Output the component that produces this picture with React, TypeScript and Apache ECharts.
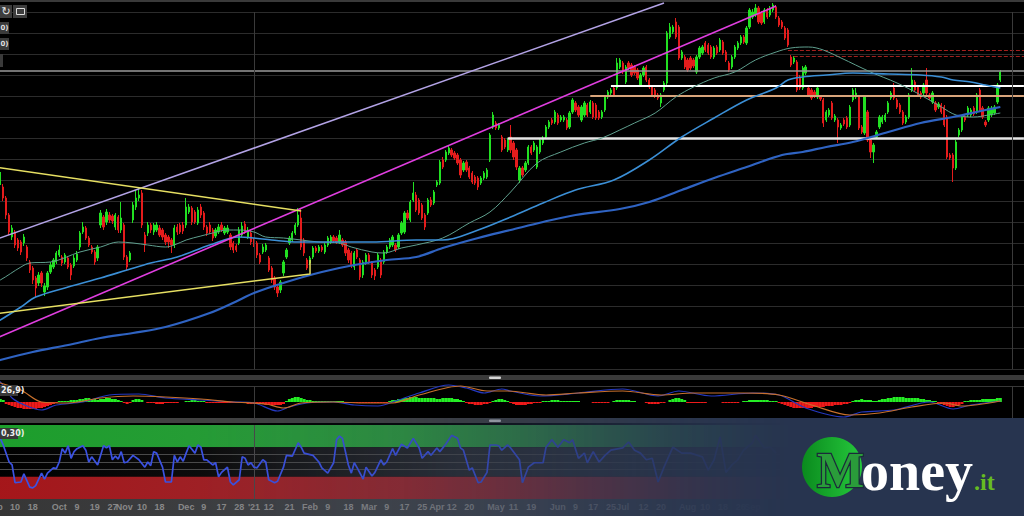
import React, { useEffect, useRef } from 'react';
import * as echarts from 'echarts';

const SLOTS = 350;
const slots = Array.from({ length: SLOTS }, (_, i) => String(i));

// [open, close, low, high]
const ohlc: number[][] = [
  [210,214,207,217],[214,207,204,216],[207,215,205,218],[203,192,189,206],[192,175,171,194],[175,158,155,177],[153,162,150,165],[158,145,142,160],[150,142,139,152],[148,138,135,150],
  [147,153,144,156],[143,132,129,145],[128,120,117,130],[122,110,106,124],[112,102,93,114],[107,115,104,118],[117,107,103,119],[98,104,94,107],[103,117,100,119],[118,125,116,128],
  [123,130,121,132],[128,137,126,139],[135,140,133,145],[133,127,124,135],[128,135,126,137],[132,123,121,134],[125,115,110,127],[124,132,122,135],[130,136,128,139],[143,157,140,159],
  [158,163,156,168],[162,152,150,164],[152,145,143,154],[143,138,136,145],[138,128,125,140],[132,143,129,145],[165,177,162,180],[173,163,160,175],[168,178,165,181],[175,170,167,178],
  [174,169,166,176],[163,175,160,177],[173,160,157,175],[160,172,157,188],[165,133,130,167],[133,123,120,135],[130,137,128,139],[170,185,167,188],[183,192,180,200],[192,195,189,202],
  [197,165,162,200],[155,145,138,158],[157,165,154,168],[165,160,157,167],[158,165,155,167],[160,165,158,168],[162,155,153,165],[160,153,150,162],[155,148,145,157],[153,148,142,155],
  [150,145,137,152],[145,162,142,165],[163,158,155,166],[165,158,156,167],[165,159,156,168],[165,183,162,192],[178,183,176,186],[182,168,165,184],[178,168,166,180],[167,180,165,183],
  [183,175,172,186],[177,163,160,179],[163,157,154,165],[165,158,156,168],[160,152,149,162],[154,160,152,162],[158,163,156,166],[165,160,158,168],[157,162,155,164],[158,162,156,165],
  [155,143,140,157],[147,140,137,149],[144,140,138,146],[147,160,145,163],[155,164,153,168],[166,158,156,169],[153,160,151,163],[157,148,145,160],[150,145,143,152],[147,135,132,149],
  [135,128,126,137],[138,143,136,146],[140,145,138,147],[132,120,118,134],[122,110,107,124],[112,103,100,114],[103,97,93,105],[100,108,97,110],[117,128,114,130],[133,140,131,142],
  [147,152,145,154],[150,157,148,159],[157,165,155,167],[165,175,163,182],[172,143,140,182],[150,137,134,152],[130,122,120,132],[127,132,125,134],[133,142,131,144],[142,139,137,144],
  [139,143,137,145],[143,140,138,145],[138,145,136,147],[145,152,143,154],[148,153,146,155],[153,149,147,155],[152,148,146,154],[148,155,146,160],[150,145,143,152],[148,137,134,150],
  [140,130,127,142],[137,125,122,139],[123,137,120,139],[140,133,131,142],[130,113,110,132],[115,128,112,130],[127,135,125,137],[135,128,126,137],[127,115,112,129],[120,114,110,122],
  [123,135,121,137],[130,115,112,132],[128,138,126,140],[138,143,136,145],[143,150,141,152],[145,153,143,155],[145,140,138,147],[143,155,141,157],[157,167,155,169],[158,177,156,179],
  [177,172,170,180],[170,188,168,190],[190,197,188,208],[195,180,178,198],[190,177,175,192],[185,172,170,187],[175,163,160,177],[177,190,175,192],[190,185,183,193],[187,198,185,200],
  [205,208,203,210],[207,228,205,230],[230,223,221,233],[230,238,228,240],[237,242,235,244],[240,235,233,242],[237,232,230,239],[235,227,225,237],[230,215,212,232],[220,227,218,229],
  [228,220,218,230],[222,213,211,224],[217,208,206,219],[213,207,205,215],[212,203,200,214],[207,212,205,214],[212,217,210,219],[213,220,211,222],[230,255,228,257],[263,275,261,278],
  [267,262,260,269],[262,265,260,267],[253,240,238,255],[250,243,241,252],[240,250,238,252],[253,240,237,265],[247,233,230,249],[240,223,220,242],[210,222,207,224],[222,215,213,224],
  [220,227,218,229],[227,243,225,245],[243,237,235,245],[240,247,238,249],[223,243,221,245],[238,250,236,252],[247,252,245,254],[253,263,251,265],[263,268,261,270],[270,267,265,272],
  [268,278,266,280],[275,267,265,277],[270,273,268,275],[270,273,268,275],[270,262,260,272],[263,277,261,279],[278,290,276,292],[287,280,278,289],[283,275,273,285],[270,283,268,285],
  [275,287,273,289],[285,275,273,287],[278,288,276,290],[287,273,271,289],[285,272,270,287],[278,272,270,280],[273,278,271,280],[280,293,278,295],[293,298,291,300],[297,300,295,302],
  [302,295,293,304],[302,327,300,332],[323,330,321,332],[327,318,316,329],[308,323,306,325],[327,322,320,329],[325,315,313,327],[323,317,315,325],[320,312,310,322],[305,315,303,317],
  [315,322,313,324],[323,310,308,325],[310,303,301,312],[303,295,293,305],[300,294,292,302],[295,292,290,297],[287,295,283,297],[300,307,298,309],[307,357,305,359],[353,363,351,367],
  [358,363,356,365],[368,353,351,372],[363,332,330,365],[332,338,330,340],[333,323,321,335],[330,320,318,332],[332,322,320,334],[330,324,322,332],[318,333,316,335],[333,342,331,344],
  [337,343,335,345],[347,340,338,349],[345,337,335,347],[343,333,331,345],[333,342,331,344],[343,337,335,345],[340,350,338,352],[348,337,335,350],[338,330,328,340],[327,320,318,329],
  [323,333,321,335],[333,343,331,345],[342,347,340,349],[347,353,345,355],[353,348,346,355],[347,362,345,364],[363,380,361,382],[373,378,371,381],[375,382,373,386],[382,368,366,384],
  [377,367,365,379],[368,380,366,382],[380,373,371,382],[375,382,373,384],[380,385,378,387],[383,373,371,385],[372,365,363,374],[368,363,361,370],[362,352,350,364],[360,345,343,362],
  [333,325,323,335],[328,332,326,334],[328,300,298,330],[313,302,300,315],[302,322,300,324],[317,323,315,325],[302,295,293,304],[300,292,290,302],[298,294,292,300],[293,302,291,304],
  [293,291,289,295],[290,267,263,292],[270,278,268,280],[275,280,273,282],[287,272,270,289],[270,274,268,276],[270,263,247,272],[262,265,260,267],[270,266,264,272],[272,263,261,274],
  [265,283,263,285],[290,300,288,302],[293,297,291,302],[293,262,260,295],[263,258,256,265],[257,293,255,295],[278,250,248,280],[250,238,232,252],[238,245,227,247],[253,258,251,260],
  [263,273,261,275],[268,273,266,275],[270,275,268,277],[278,287,276,289],[292,297,290,299],[302,292,290,307],[290,283,281,292],[285,278,276,287],[278,267,265,280],[268,273,266,275],
  [273,295,271,297],[300,310,298,322],[308,300,298,310],[303,295,293,305],[297,293,291,299],[297,305,295,307],[310,297,295,322],[295,292,290,297],[288,297,286,299],[287,280,278,289],
  [283,286,281,288],[285,278,276,287],[283,265,263,285],[273,233,231,275],[235,232,230,237],[235,222,208,237],[222,248,220,250],[255,260,253,262],[260,273,258,275],[273,270,268,275],
  [275,282,273,284],[275,280,273,282],[282,276,274,284],[278,295,276,297],[300,280,278,302],[282,273,271,284],[268,265,263,270],[270,282,268,284],[275,282,273,284],[277,283,275,285],
  [288,305,286,307],[310,318,308,320],
];

const tickLabels: [number, string][] = [
  [0,'Sep'],[7,'10'],[13,'18'],[22,'Oct'],[28,'9'],[34,'19'],[40,'27'],[44,'Nov'],[50,'10'],[56,'18'],
  [65,'Dec'],[71,'9'],[77,'17'],[83,'28'],[88,"'21"],[93,'12'],[100,'21'],[107,'Feb'],[113,'9'],[120,'18'],
  [127,'Mar'],[133,'9'],[139,'17'],[145,'25'],[150,'Apr'],[155,'12'],[161,'20'],[170,'May'],[176,'11'],[182,'19'],
  [191,'Jun'],[197,'9'],[203,'17'],[209,'25'],[213,'Jul'],[220,'12'],[226,'20'],[235,'Aug'],[241,'10'],[247,'18'],
  [253,'26'],[257,'Sep'],
];

const ma50: [number, number][] = [[0,108],[2,110],[9,123],[12,127],[19,128],[29,138],[36,143],[42,148],[47,147],[52,145],[58,143],[61,145],[65,150],[70,154],[74,157],[79,160],[83,160],[88,158],[92,153],[98,152],[104,150],[110,148],[117,147],[121,143],[128,138],[132,137],[138,142],[143,145],[152,152],[161,167],[168,178],[175,198],[184,227],[192,238],[200,247],[206,252],[212,260],[217,267],[224,277],[231,293],[237,303],[244,312],[251,318],[258,330],[265,338],[270,342],[276,343],[281,340],[287,332],[297,318],[306,307],[314,295],[321,283],[326,275],[332,273],[337,275],[341,277]];
const ma100: [number, number][] = [[0,67],[2,70],[9,83],[14,93],[25,103],[36,112],[45,120],[53,127],[62,133],[73,145],[83,153],[88,152],[94,150],[103,148],[116,148],[128,148],[143,150],[152,150],[164,160],[175,173],[186,187],[197,200],[210,210],[222,230],[233,253],[244,272],[255,290],[265,302],[269,310],[274,313],[282,315],[291,317],[303,316],[314,315],[321,313],[325,310],[331,308],[336,305],[341,302]];
const ma200: [number, number][] = [[0,28],[2,30],[13,38],[25,45],[36,52],[47,57],[58,63],[73,77],[83,90],[88,97],[99,108],[111,118],[122,125],[133,130],[143,133],[152,142],[164,152],[175,160],[186,168],[197,175],[212,181],[222,188],[233,200],[244,212],[255,223],[267,235],[274,238],[282,243],[291,248],[303,258],[314,267],[325,273],[336,280],[341,283]];

const lavenderLine: [number, number][] = [[0,150],[227,387]];
const magentaLine: [number, number][] = [[0,51],[265,384]];
const yellowUpper: [number, number][] = [[0,223],[104,179]];
const yellowLower: [number, number][] = [[0,76],[107,116],[107,130]];

const grayLevel = 319.5;
const whiteLevel = { from: 209, value: 304 };
const tanLevel = { from: 202, value: 294 };
const supportLevel = { from: 174, value: 252 };
const redLevels = [{ from: 269, value: 340 }, { from: 271, value: 334 }];
const yearBreak = 88;
const lastSlot = 345;

const macdHist: number[] = [
  2,3,3,2,
  -2,-3,-4,-5,-6,-6,-7,-7,-7,-7,-7,-6,-6,-5,-4,-3,-2,-1,
  1,1,1,1,2,2,2,
  3,3,4,4,3,3,2,
  3,3,4,4,3,3,2,1,
  -1,-2,-1,
  2,3,3,2,
  0,
  -1,-1,-1,-2,-2,-2,-1,-1,-1,-1,-1,
  0,0,
  1,1,2,2,1,1,1,
  -1,-1,-1,-1,-1,-1,-1,-1,-1,
  -1,-1,-1,-1,-1,-2,-2,-2,-2,-2,-2,-3,-3,-3,-3,-3,-3,-2,
  1,3,4,5,5,4,3,
  2,2,1,1,1,1,1,1,1,1,1,1,1,
  -1,-1,-1,-1,-1,-1,-1,-1,-1,-1,-1,-1,-1,-1,-1,
  1,2,2,3,3,4,4,5,5,5,4,4,4,4,4,4,3,3,4,4,4,4,3,3,2,1,
  -1,-2,-2,-3,-3,-3,-2,-2,-1,
  1,2,3,3,2,1,
  -1,-2,-3,-3,-3,-3,-2,-2,-1,-1,-1,
  1,1,1,2,2,2,1,1,1,1,1,1,1,
  0,0,0,0,
  -1,-1,-1,-1,-1,-1,
  0,
  1,2,2,2,2,2,1,1,
  0,0,0,-1,
  -2,-2,-2,-2,-1,-1,
  0,
  2,3,4,4,3,2,
  -1,-1,-1,-1,-1,-1,-1,
  0,0,0,0,0,
  -1,-1,-1,-1,-1,-1,
  0,
  1,1,2,2,2,2,2,2,2,1,1,1,
  -1,-2,-3,-4,-5,-6,-6,-6,-6,-6,-6,-6,-5,-5,-5,-5,-4,-4,-4,-3,-3,-3,-2,-2,-1,
  1,2,2,3,2,2,2,
  1,1,
  2,3,3,4,4,5,5,5,5,4,4,4,4,4,3,3,2,2,1,1,
  -1,-2,-3,-4,-5,-5,-4,-3,-2,
  1,1,2,2,2,2,3,3,3,3,3,4,4,
];
const macdLine: [number, number][] = [[0,22],[2,20],[6,4],[11,-4],[16,-8],[21,-3],[30,0],[39,7],[49,8],[58,4],[70,2],[81,0],[88,-1],[96,-9],[100,-5],[106,-1],[115,0],[122,-3],[130,-4],[137,2],[144,9],[154,17],[160,14],[166,9],[172,13],[175,11],[185,6],[198,9],[213,13],[225,6],[232,11],[243,6],[257,9],[266,7],[275,-6],[288,-15],[294,-10],[305,-8],[317,0],[325,-7],[331,-3],[341,1]];
const signalLine: [number, number][] = [[0,20],[2,19],[9,12],[16,0],[25,-1],[36,4],[47,6],[58,5],[70,3],[81,0],[92,-2],[98,-6],[104,-1],[115,0],[126,-1],[135,-1],[144,7],[158,16],[167,11],[174,11],[187,7],[198,9],[213,11],[226,7],[237,9],[254,9],[266,7],[277,-3],[290,-13],[300,-11],[311,-5],[322,-1],[328,-4],[341,1]];

const rsi: [number, number][] = [[2,82],[3,73],[5,50],[6,46],[7,22],[9,23],[10,34],[12,16],[13,15],[14,18],[16,35],[17,27],[18,35],[20,42],[21,41],[22,50],[23,68],[24,62],[25,72],[26,55],[27,64],[28,68],[30,72],[31,66],[32,50],[33,57],[35,46],[37,72],[38,69],[39,72],[40,53],[41,58],[42,54],[43,64],[44,49],[45,50],[47,59],[49,53],[51,43],[52,50],[53,45],[54,64],[55,62],[57,43],[58,23],[60,23],[61,59],[62,50],[63,57],[64,51],[65,62],[66,72],[68,62],[69,73],[70,70],[71,53],[72,53],[74,46],[75,49],[76,30],[77,36],[79,43],[80,23],[81,19],[83,26],[84,57],[85,55],[86,46],[87,49],[88,43],[89,42],[91,53],[92,50],[93,26],[95,22],[96,24],[98,43],[99,59],[101,58],[103,76],[104,70],[105,62],[108,59],[110,50],[111,42],[113,35],[115,49],[116,80],[117,85],[118,82],[120,46],[121,35],[122,49],[123,42],[125,27],[126,43],[128,31],[129,36],[131,53],[132,46],[133,50],[135,68],[136,59],[138,74],[140,69],[142,82],[144,69],[145,55],[147,64],[148,59],[150,69],[151,64],[153,74],[155,86],[157,82],[158,69],[159,66],[161,39],[162,42],[164,22],[165,23],[167,36],[168,73],[170,73],[171,72],[172,66],[174,73],[175,69],[178,53],[179,22],[181,43],[183,49],[186,49],[187,70],[189,80],[191,70],[193,80],[195,76],[196,80],[198,55],[200,62],[201,49],[203,64],[205,50],[207,59],[209,66],[213,69],[215,77],[217,66],[219,62],[221,53],[223,55],[225,23],[227,43],[230,70],[233,62],[236,62],[240,57],[242,39],[244,53],[246,84],[248,36],[250,46],[252,53],[254,66],[257,76],[258,86],[261,69],[263,70],[265,62]];

const GL = -7.1;
const GW = SLOTS * 2.95;
const fadeStops: [number, number][] = [[200, 0], [400, 0.18], [512, 0.42], [600, 0.66], [680, 0.85], [740, 0.95], [790, 1]];

function fadeAt(x: number): number {
  if (x <= fadeStops[0][0]) return 0;
  for (let k = 1; k < fadeStops.length; k++) {
    const [x1, a1] = fadeStops[k];
    const [x0, a0] = fadeStops[k - 1];
    if (x <= x1) return a0 + (a1 - a0) * (x - x0) / (x1 - x0);
  }
  return 1;
}

export default function App() {
  const ref = useRef<HTMLDivElement>(null);
  useEffect(() => {
    const chart = echarts.init(ref.current!, null, { renderer: 'svg' });
    const labelMap = new Map<number, string>(tickLabels);
    const xAx = (g: number, show: boolean) => ({
      type: 'category', gridIndex: g, data: slots, boundaryGap: true,
      axisLine: { show: false }, axisTick: { show: false }, splitLine: { show: false },
      axisLabel: show ? {
        interval: 0, margin: 3, color: '#888888', fontSize: 9, fontWeight: 'bold', fontFamily: 'Liberation Sans',
        formatter: (_v: string, idx: number) => labelMap.get(idx) ?? '',
      } : { show: false },
    });
    const yHidden = { axisLabel: { show: false }, axisLine: { show: false }, axisTick: { show: false } };
    const vLine = (c: string) => ({ silent: true, symbol: ['none', 'none'], label: { show: false },
      data: [{ xAxis: String(yearBreak), lineStyle: { color: c, width: 1, type: 'solid' } },
             { xAxis: String(lastSlot), lineStyle: { color: c, width: 1, type: 'solid' } }] });
    const seg = (lv: { from: number; value: number }, color: string, width: number, type: string) => [
      { coord: [String(lv.from), lv.value], lineStyle: { color, width, type } },
      { coord: [String(SLOTS - 1), lv.value] },
    ];
    const grad = (stops: [number, string][]) => new echarts.graphic.LinearGradient(0, 0, 1, 0, stops.map(([offset, color]) => ({ offset, color })));
    const trend = (data: [number, number][], color: string, width: number) => ({
      type: 'line', xAxisIndex: 0, yAxisIndex: 0, data, symbol: 'none', clip: false, z: 6,
      lineStyle: { color, width }, silent: true,
    });
    const ma = (data: [number, number][], color: string, width: number) => ({
      type: 'line', xAxisIndex: 0, yAxisIndex: 0, data, symbol: 'none', smooth: 0.35, clip: false, z: 5,
      lineStyle: { color, width }, silent: true,
    });
    const gridBase = { left: GL, width: GW, containLabel: false, outerBoundsMode: 'none' };

    const fadeStrips: any[] = [];
    for (let x = 200; x < 800; x += 4) {
      const a = fadeAt(x + 2).toFixed(3);
      fadeStrips.push({ type: 'rect', z: 100, silent: true, shape: { x, y: 418, width: 4, height: 98 },
        style: { fill: `rgba(39,52,79,${a})` } });
    }
    fadeStrips.push({ type: 'rect', z: 100, silent: true, shape: { x: 800, y: 418, width: 224, height: 98 }, style: { fill: 'rgb(39,52,79)' } });

    const option: any = {
      animation: false,
      backgroundColor: '#000',
      grid: [
        { ...gridBase, top: 12, height: 357 },
        { ...gridBase, top: 386, height: 32 },
        { ...gridBase, top: 425, height: 74 },
      ],
      xAxis: [xAx(0, false), xAx(1, false), xAx(2, true)],
      yAxis: [
        { type: 'value', gridIndex: 0, min: 21, max: 378, interval: 21, ...yHidden, splitLine: { lineStyle: { color: '#2c2c2c', width: 1 } } },
        { type: 'value', gridIndex: 1, min: -16, max: 16, interval: 32, ...yHidden, splitLine: { lineStyle: { color: '#383838', width: 1 } } },
        { type: 'value', gridIndex: 2, min: 0, max: 100, ...yHidden, splitLine: { show: false } },
      ],
      series: [
        {
          type: 'candlestick', xAxisIndex: 0, yAxisIndex: 0, data: ohlc, barWidth: 1.8, clip: false, z: 4,
          itemStyle: { color: '#22e022', color0: '#e41c1c', borderColor: '#22e022', borderColor0: '#e41c1c', borderWidth: 1 },
          markLine: {
            silent: true, symbol: ['none', 'none'], label: { show: false },
            data: [
              { yAxis: grayLevel, lineStyle: { color: '#9a9a9a', width: 1.5, type: 'solid' } },
              seg(whiteLevel, '#ffffff', 2, 'solid'),
              seg(tanLevel, '#d9a57c', 2, 'solid'),
              seg(supportLevel, '#e6e6e6', 2.5, 'solid'),
              seg(redLevels[0], '#a3201e', 1, 'dashed'),
              seg(redLevels[1], '#a3201e', 1, 'dashed'),
              { xAxis: String(yearBreak), lineStyle: { color: '#3a3a3a', width: 1, type: 'solid' } },
              { xAxis: String(lastSlot), lineStyle: { color: '#3a3a3a', width: 1, type: 'solid' } },
            ],
          },
        },
        ma(ma50, '#5f9f8e', 1),
        ma(ma100, '#3b8fd6', 1.6),
        ma(ma200, '#2f63c2', 2.2),
        trend(lavenderLine, '#b3a3e6', 1.5),
        trend(magentaLine, '#e03ee0', 1.6),
        trend(yellowUpper, '#e6df62', 1.5),
        trend(yellowLower, '#e6df62', 1.5),
        {
          type: 'bar', xAxisIndex: 1, yAxisIndex: 1, barWidth: 3, silent: true,
          data: macdHist.map(v => ({ value: v, itemStyle: { color: v >= 0 ? '#25ee25' : '#ee1a1a' } })),
          markLine: vLine('#3a3a3a'),
        },
        { type: 'line', xAxisIndex: 1, yAxisIndex: 1, data: macdLine, symbol: 'none', smooth: 0.3, clip: false,
          lineStyle: { color: '#2438c0', width: 1.2 }, silent: true, z: 5 },
        { type: 'line', xAxisIndex: 1, yAxisIndex: 1, data: signalLine, symbol: 'none', smooth: 0.3, clip: false,
          lineStyle: { color: '#c8702c', width: 1.2 }, silent: true, z: 6 },
        {
          type: 'line', xAxisIndex: 2, yAxisIndex: 2, data: slots.map(() => null), symbol: 'none', silent: true, z: 1,
          markArea: {
            silent: true,
            data: [
              [{ yAxis: 70, itemStyle: { color: grad([[0, '#1c9e2b'], [0.4, '#2f9a40'], [1, '#3f8a55']]) } }, { yAxis: 100 }],
              [{ yAxis: 30, itemStyle: { color: grad([[0, '#000000'], [0.2, '#0c0c0c'], [0.45, '#2a2c30'], [1, '#3a3e44']]) } }, { yAxis: 70 }],
              [{ yAxis: 0, itemStyle: { color: grad([[0, '#a5161a'], [0.4, '#982a30'], [1, '#8a3c44']]) } }, { yAxis: 30 }],
            ],
          },
          markLine: {
            silent: true, symbol: ['none', 'none'], label: { show: false },
            data: [
              { yAxis: 40, lineStyle: { color: '#4a4a4a', width: 1, type: 'solid' } },
              { yAxis: 50, lineStyle: { color: '#4a4a4a', width: 1, type: 'solid' } },
              { yAxis: 60, lineStyle: { color: '#4a4a4a', width: 1, type: 'solid' } },
              { xAxis: String(yearBreak), lineStyle: { color: '#4a4a4a', width: 1, type: 'solid' } },
            ],
          },
        },
        { type: 'line', xAxisIndex: 2, yAxisIndex: 2, data: rsi, symbol: 'none', silent: true, z: 5,
          lineStyle: { color: '#3b52e2', width: 1.7 } },
      ],
      graphic: [
        { type: 'rect', z: 50, shape: { x: 0, y: 0, width: 1024, height: 2 }, style: { fill: '#3a3a3a' } },
        { type: 'rect', z: 50, shape: { x: 0, y: 5, width: 12, height: 13 }, style: { fill: '#3d3d3d' } },
        { type: 'rect', z: 50, shape: { x: 13, y: 5, width: 14, height: 13 }, style: { fill: '#3d3d3d' } },
        { type: 'text', z: 51, style: { text: '↻', x: 6, y: 11.5, fill: '#e6e6e6', fontSize: 11, fontFamily: 'DejaVu Sans', align: 'center', verticalAlign: 'middle' } },
        { type: 'rect', z: 51, shape: { x: 16.5, y: 8.5, width: 8, height: 6 }, style: { fill: 'none', stroke: '#dddddd', lineWidth: 1 } },
        { type: 'rect', z: 50, shape: { x: 0, y: 22, width: 9, height: 12 }, style: { fill: '#3a3a3a' } },
        { type: 'text', z: 51, style: { text: '0)', x: 0.5, y: 28, fill: '#dddddd', fontSize: 7, fontWeight: 'bold', fontFamily: 'DejaVu Sans', align: 'left', verticalAlign: 'middle' } },
        { type: 'rect', z: 50, shape: { x: 0, y: 38, width: 9, height: 12 }, style: { fill: '#3a3a3a' } },
        { type: 'text', z: 51, style: { text: '0)', x: 0.5, y: 44, fill: '#dddddd', fontSize: 7, fontWeight: 'bold', fontFamily: 'DejaVu Sans', align: 'left', verticalAlign: 'middle' } },
        { type: 'rect', z: 50, shape: { x: 0, y: 54, width: 3, height: 13 }, style: { fill: '#3a3a3a' } },
        { type: 'rect', z: 50, shape: { x: 0, y: 375, width: 1024, height: 5 }, style: { fill: '#3a3a3a' } },
        { type: 'rect', z: 51, shape: { x: 489, y: 376.5, width: 12, height: 2.5, r: 1 }, style: { fill: '#d6d6d6' } },
        { type: 'rect', z: 50, shape: { x: 0, y: 385, width: 18, height: 11 }, style: { fill: '#383838' } },
        { type: 'text', z: 51, style: { text: '26,9)', x: 1, y: 390.5, fill: '#eeeeee', fontSize: 8, fontWeight: 'bold', fontFamily: 'DejaVu Sans', verticalAlign: 'middle' } },
        { type: 'rect', z: 50, shape: { x: 0, y: 418, width: 1024, height: 5 }, style: { fill: '#424242' } },
        { type: 'rect', z: 51, shape: { x: 489, y: 419.5, width: 12, height: 2.5, r: 1 }, style: { fill: '#d0d0d0' } },
        { type: 'rect', z: 50, shape: { x: 0, y: 428, width: 18, height: 11 }, style: { fill: '#383838' } },
        { type: 'text', z: 51, style: { text: '0,30)', x: 1, y: 433.5, fill: '#eeeeee', fontSize: 8, fontWeight: 'bold', fontFamily: 'DejaVu Sans', verticalAlign: 'middle' } },
        { type: 'rect', z: -5, shape: { x: 0, y: 499, width: 1024, height: 17 }, style: { fill: grad([[0, '#363636'], [0.5, '#464a50'], [1, '#4a4e55']]) } },
        ...fadeStrips,
        { type: 'circle', z: 110, shape: { cx: 832, cy: 467, r: 30 },
          style: { fill: new echarts.graphic.LinearGradient(0, 0, 1, 0, [{ offset: 0, color: '#0a8a1e' }, { offset: 1, color: '#26c93c' }]) } },
        { type: 'text', z: 111, style: { text: 'M', x: 817, y: 470, fill: '#2a9c3a', stroke: '#1b2a3a', lineWidth: 2.5, fontSize: 50, fontWeight: 'bold', fontFamily: 'Liberation Serif', verticalAlign: 'middle' } },
        { type: 'text', z: 111, style: { text: 'oney', x: 861, y: 471, fill: '#ffffff', fontSize: 56, fontWeight: 'bold', fontFamily: 'Liberation Serif', verticalAlign: 'middle' } },
        { type: 'text', z: 111, style: { text: '.it', x: 974, y: 482, fill: '#66bb22', fontSize: 24, fontWeight: 'bold', fontFamily: 'Liberation Serif', verticalAlign: 'middle' } },
      ],
    };
    chart.setOption(option);
    return () => chart.dispose();
  }, []);
  return (
    <div style={{ position: 'fixed', left: 0, top: 0, width: 1024, height: 516, background: '#000', overflow: 'hidden' }}>
      <div ref={ref} style={{ width: 1024, height: 516 }} />
    </div>
  );
}
